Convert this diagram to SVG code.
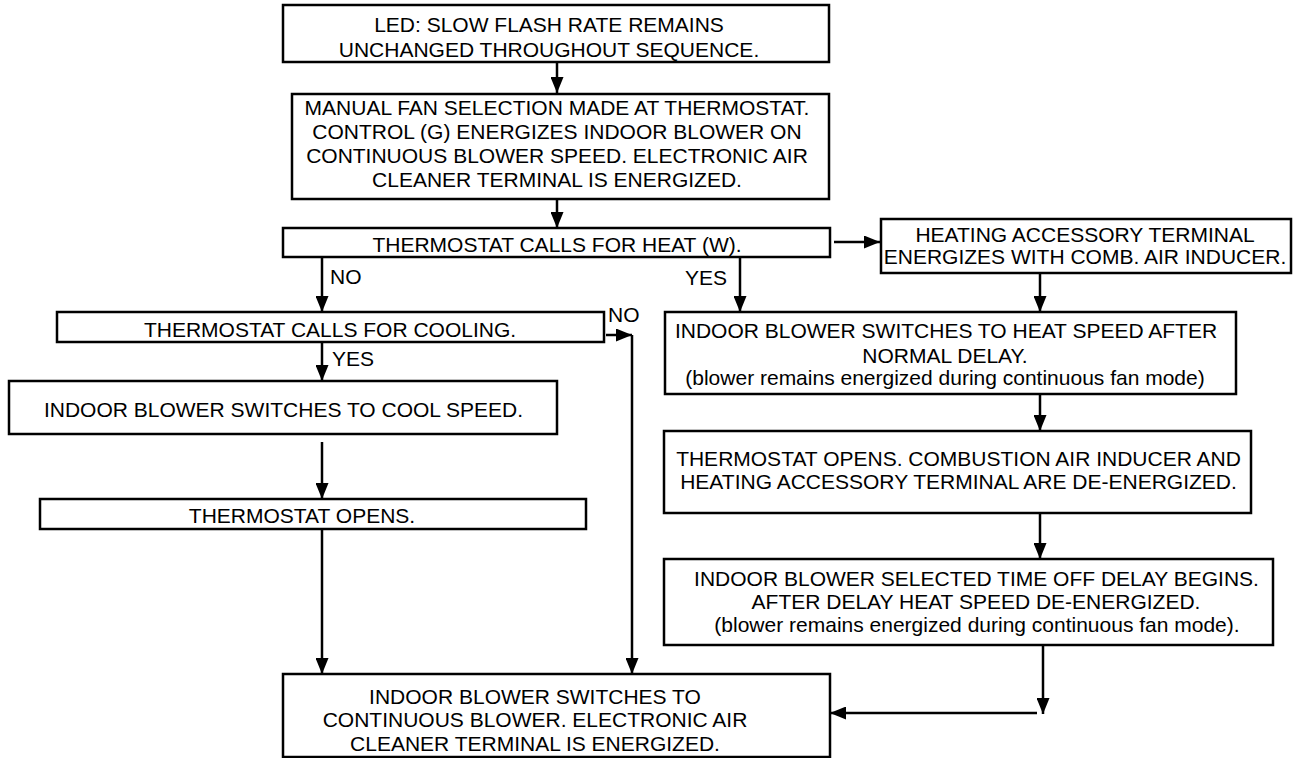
<svg xmlns="http://www.w3.org/2000/svg" width="1299" height="758" viewBox="0 0 1299 758">
<style>
.box{fill:#fff;stroke:#000;stroke-width:2.5}
.t{font-family:"Liberation Sans",Arial,Helvetica,sans-serif;font-size:21px;fill:#000;text-anchor:middle}
.l{font-family:"Liberation Sans",Arial,Helvetica,sans-serif;font-size:21px;fill:#000}
.c{fill:none;stroke:#000;stroke-width:2.5}
</style>
<defs>
<marker id="ah" markerUnits="userSpaceOnUse" markerWidth="16" markerHeight="13" refX="16" refY="6.5" orient="auto">
<path d="M0,0 L16,6.5 L0,13 z" fill="#000"/>
</marker>
</defs>
<rect width="1299" height="758" fill="#fff"/>

<g id="connectors">
<line class="c" x1="557" y1="62" x2="557" y2="93" marker-end="url(#ah)"/>
<line class="c" x1="557" y1="199" x2="557" y2="228" marker-end="url(#ah)"/>
<line class="c" x1="834" y1="242" x2="880" y2="242" marker-end="url(#ah)"/>
<line class="c" x1="322" y1="257" x2="322" y2="312" marker-end="url(#ah)"/>
<line class="c" x1="740" y1="257" x2="740" y2="312" marker-end="url(#ah)"/>
<line class="c" x1="1040" y1="273" x2="1040" y2="312" marker-end="url(#ah)"/>
<line class="c" x1="606" y1="335" x2="632" y2="335" marker-end="url(#ah)"/>
<line class="c" x1="632" y1="335" x2="632" y2="674" marker-end="url(#ah)"/>
<line class="c" x1="322" y1="342" x2="322" y2="381" marker-end="url(#ah)"/>
<line class="c" x1="322" y1="442" x2="322" y2="499" marker-end="url(#ah)"/>
<line class="c" x1="322" y1="529" x2="322" y2="674" marker-end="url(#ah)"/>
<line class="c" x1="1040" y1="394" x2="1040" y2="431" marker-end="url(#ah)"/>
<line class="c" x1="1040" y1="513" x2="1040" y2="559" marker-end="url(#ah)"/>
<line class="c" x1="1043" y1="645" x2="1043" y2="714" marker-end="url(#ah)"/>
<line class="c" x1="1037" y1="713" x2="830" y2="713" marker-end="url(#ah)"/>
<text class="l" x="330" y="284">NO</text>
<text class="l" x="727" y="285" text-anchor="end">YES</text>
<text class="l" x="608" y="322">NO</text>
<text class="l" x="332" y="366">YES</text>
</g>

<g id="n-led">
<rect class="box" x="283" y="5" width="546" height="57"/>
<text class="t" x="549" y="32">LED: SLOW FLASH RATE REMAINS</text>
<text class="t" x="549" y="57">UNCHANGED THROUGHOUT SEQUENCE.</text>
</g>

<g id="n-manual">
<rect class="box" x="292" y="94" width="537" height="105"/>
<text class="t" x="557" y="115">MANUAL FAN SELECTION MADE AT THERMOSTAT.</text>
<text class="t" x="557" y="139">CONTROL (G) ENERGIZES INDOOR BLOWER ON</text>
<text class="t" x="557" y="163">CONTINUOUS BLOWER SPEED. ELECTRONIC AIR</text>
<text class="t" x="557" y="187">CLEANER TERMINAL IS ENERGIZED.</text>
</g>

<g id="n-heat-call">
<rect class="box" x="283" y="228" width="547" height="29"/>
<text class="t" x="557" y="252">THERMOSTAT CALLS FOR HEAT (W).</text>
</g>

<g id="n-accessory">
<rect class="box" x="881" y="219" width="410" height="54"/>
<text class="t" x="1085" y="242">HEATING ACCESSORY TERMINAL</text>
<text class="t" x="1085" y="264">ENERGIZES WITH COMB. AIR INDUCER.</text>
</g>

<g id="n-cool-call">
<rect class="box" x="57" y="312" width="547" height="30"/>
<text class="t" x="330" y="337">THERMOSTAT CALLS FOR COOLING.</text>
</g>

<g id="n-cool-speed">
<rect class="box" x="9" y="381" width="548" height="53"/>
<text class="t" x="283.5" y="417">INDOOR BLOWER SWITCHES TO COOL SPEED.</text>
</g>

<g id="n-opens">
<rect class="box" x="40" y="499" width="546" height="30"/>
<text class="t" x="302" y="523">THERMOSTAT OPENS.</text>
</g>

<g id="n-heat-speed">
<rect class="box" x="665" y="312" width="571" height="82"/>
<text class="t" x="946" y="338">INDOOR BLOWER SWITCHES TO HEAT SPEED AFTER</text>
<text class="t" x="945" y="363">NORMAL DELAY.</text>
<text class="t" x="945" y="385">(blower remains energized during continuous fan mode)</text>
</g>

<g id="n-opens-heat">
<rect class="box" x="664" y="431" width="587" height="82"/>
<text class="t" x="958.5" y="466">THERMOSTAT OPENS. COMBUSTION AIR INDUCER AND</text>
<text class="t" x="958.5" y="489">HEATING ACCESSORY TERMINAL ARE DE-ENERGIZED.</text>
</g>

<g id="n-off-delay">
<rect class="box" x="664" y="559" width="609" height="86"/>
<text class="t" x="976.5" y="586">INDOOR BLOWER SELECTED TIME OFF DELAY BEGINS.</text>
<text class="t" x="976" y="609">AFTER DELAY HEAT SPEED DE-ENERGIZED.</text>
<text class="t" x="977" y="632">(blower remains energized during continuous fan mode).</text>
</g>

<g id="n-continuous">
<rect class="box" x="283" y="674" width="547" height="83"/>
<text class="t" x="535" y="704">INDOOR BLOWER SWITCHES TO</text>
<text class="t" x="535" y="727">CONTINUOUS BLOWER. ELECTRONIC AIR</text>
<text class="t" x="535" y="751">CLEANER TERMINAL IS ENERGIZED.</text>
</g>
</svg>
